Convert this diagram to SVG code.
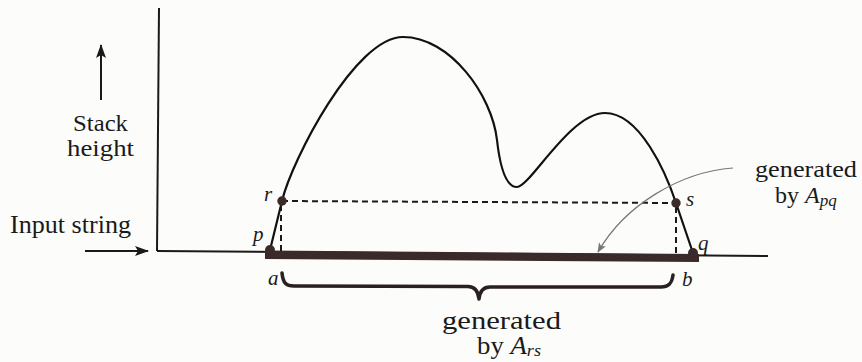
<svg xmlns="http://www.w3.org/2000/svg" width="862" height="362" viewBox="0 0 862 362">
<style>
.ax{stroke:#1a1a1a;stroke-width:2;fill:none}
.crv{stroke:#111;stroke-width:2.2;fill:none;stroke-linejoin:round}
.dash{stroke:#1a1a1a;stroke-width:2;stroke-dasharray:6,4;fill:none}
.dot{fill:#3a2b2a}
.lbl{font-family:"Liberation Serif","Times New Roman",serif;fill:#1a1a1a}
.m{font-family:"Liberation Serif","Times New Roman",serif;font-style:italic;fill:#1a1a1a;font-size:21px}
</style>
<defs>
<marker id="ah" viewBox="0 0 14 10" refX="13" refY="5" markerWidth="14" markerHeight="10" orient="auto" markerUnits="userSpaceOnUse"><path d="M0,0 L14,5 L0,10 L3,5 z" fill="#1a1a1a"/></marker>
<marker id="gh" viewBox="0 0 10 8" refX="9" refY="4" markerWidth="10" markerHeight="8" orient="auto" markerUnits="userSpaceOnUse"><path d="M0,0 L10,4 L0,8 L2.5,4 z" fill="#777"/></marker>
</defs>
<rect width="862" height="362" fill="#fcfcfa"/>
<g id="axes">
<line class="ax" x1="159" y1="8" x2="157" y2="251"/>
<line class="ax" x1="157" y1="251" x2="768" y2="256"/>
</g>
<g id="bar"><polygon class="dot" points="265,250.5 699,254 699,262 265,259"/></g>
<g id="curve">
<path class="crv" d="M270,250 L282,201 C292,160 355,37 403,37 C450,37 492,95 497,140 C500,167 506,187 517,187 C530,187 570,113 605,113 C640,113 666,173 676,203 L693,253"/>
</g>
<g id="dashes">
<line class="dash" x1="282" y1="201" x2="676" y2="203"/>
<line class="dash" x1="281" y1="205" x2="281" y2="251"/>
<line class="dash" x1="676" y1="207" x2="676" y2="254"/>
</g>
<g id="point-p"><circle class="dot" cx="270" cy="250" r="5"/><text class="m" x="253" y="241">p</text></g>
<g id="point-r"><circle class="dot" cx="282" cy="201" r="4.7"/><text class="m" x="264" y="201">r</text></g>
<g id="point-s"><circle class="dot" cx="676" cy="203" r="4.7"/><text class="m" x="686" y="206">s</text></g>
<g id="point-q"><circle class="dot" cx="693" cy="253" r="5"/><text class="m" x="698" y="250">q</text></g>
<g id="label-a"><text class="m" x="268" y="285">a</text></g>
<g id="label-b"><text class="m" x="682" y="286">b</text></g>
<g id="brace"><path d="M282,273 C283,283 286,286 294,286 L468,286.5 C474,286.5 478,290 479,299 C480,290 484,287 490,287 L661,287 C669,287 672,283 673,275" fill="none" stroke="#2a2020" stroke-width="3.5" stroke-linecap="round" stroke-linejoin="round"/></g>
<g id="stack-height">
<text class="lbl" font-size="23" x="73" y="131" textLength="55" lengthAdjust="spacingAndGlyphs">Stack</text>
<text class="lbl" font-size="23" x="67" y="156" textLength="67" lengthAdjust="spacingAndGlyphs">height</text>
</g>
<g id="input-string"><text class="lbl" font-size="25" x="10" y="233" textLength="121" lengthAdjust="spacingAndGlyphs">Input string</text></g>
<g id="label-apq">
<text class="lbl" font-size="24" x="755" y="177" textLength="102" lengthAdjust="spacingAndGlyphs">generated</text>
<text class="lbl" font-size="24" x="775" y="203">by <tspan font-style="italic">A</tspan><tspan font-style="italic" font-size="17" dy="3">pq</tspan></text>
</g>
<g id="label-ars">
<text class="lbl" font-size="25" x="442" y="329" textLength="119" lengthAdjust="spacingAndGlyphs">generated</text>
<text class="lbl" font-size="25" x="477" y="354" textLength="64" lengthAdjust="spacingAndGlyphs">by <tspan font-style="italic">A</tspan><tspan font-style="italic" font-size="17" dy="2">rs</tspan></text>
</g>
<g id="connectors">
<line x1="101" y1="100" x2="101" y2="45" stroke="#1a1a1a" stroke-width="2" marker-end="url(#ah)"/>
<line x1="85" y1="251" x2="148" y2="251" stroke="#1a1a1a" stroke-width="2" marker-end="url(#ah)"/>
<path d="M733,168 C680,172 625,205 598,252" fill="none" stroke="#777" stroke-width="1.2" marker-end="url(#gh)"/>
</g>
</svg>
